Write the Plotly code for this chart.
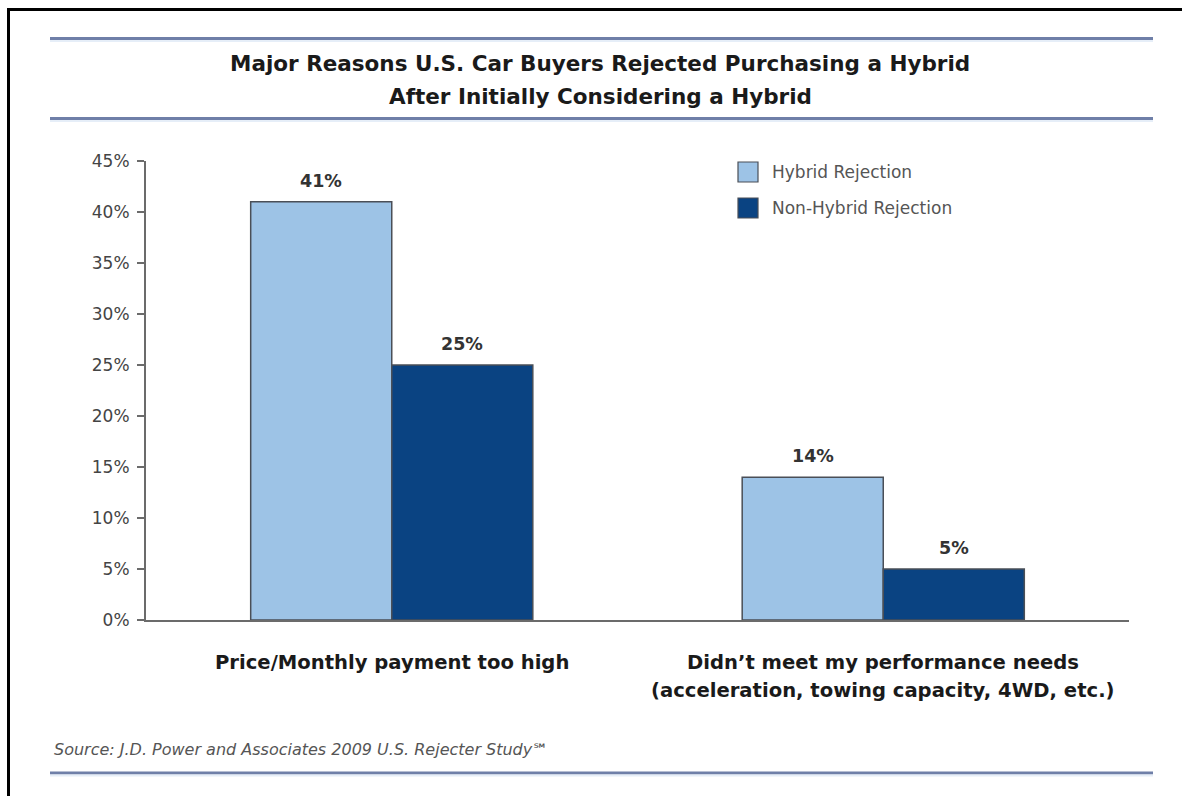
import plotly.graph_objects as go

categories = ["Price/Monthly payment too high",
              "Didn\u2019t meet my performance needs\n(acceleration, towing capacity, 4WD, etc.)"]
series_names = ["Hybrid Rejection", "Non-Hybrid Rejection"]
hybrid = [41, 14]
non_hybrid = [25, 5]
tick_vals = [0, 5, 10, 15, 20, 25, 30, 35, 40, 45]
tick_text = ["0%", "5%", "10%", "15%", "20%", "25%", "30%", "35%", "40%", "45%"]
title_lines = ["Major Reasons U.S. Car Buyers Rejected Purchasing a Hybrid",
               "After Initially Considering a Hybrid"]
source = "Source: J.D. Power and Associates 2009 U.S. Rejecter Study\u2120"

colors = ["#9dc3e6", "#0a4382"]
W, H = 1182, 796
L, R, T, B = 146, 1129, 161, 620
FONT = "DejaVu Sans, Liberation Sans, Arial, sans-serif"
BAR_W = 0.287

def px(x):
    return (x - L) / (R - L)

def py(y):
    return (B - y) / (B - T)

fig = go.Figure()
xs = list(range(len(categories)))
offsets = [-BAR_W, 0]
for name, vals, col, off in zip(series_names, [hybrid, non_hybrid], colors, offsets):
    fig.add_trace(go.Bar(
        x=xs, y=vals, name=name, width=BAR_W, offset=off,
        marker=dict(color=col, line=dict(color="#4a4f57", width=1.5)),
        showlegend=False, hoverinfo="x+y",
    ))

shapes = []
annotations = []

# value labels above bars
for vals, off in zip([hybrid, non_hybrid], offsets):
    for xi, v in zip(xs, vals):
        annotations.append(dict(text=f"<b>{v}%</b>", xref="x", yref="y",
                                x=xi + off + BAR_W / 2, y=v, yshift=9,
                                xanchor="center", yanchor="bottom", showarrow=False,
                                font=dict(family=FONT, size=17.5, color="#333333")))

# black frame lines
shapes.append(dict(type="line", xref="paper", yref="paper", x0=px(7), x1=px(1182),
                   y0=py(9.5), y1=py(9.5), line=dict(color="#000000", width=3)))
shapes.append(dict(type="line", xref="paper", yref="paper", x0=px(8.5), x1=px(8.5),
                   y0=py(8), y1=py(796), line=dict(color="#000000", width=3)))
# blue-gray rules
for yy in [38.5, 118.5, 773]:
    shapes.append(dict(type="line", xref="paper", yref="paper", x0=px(50), x1=px(1153),
                       y0=py(yy), y1=py(yy), line=dict(color="#6f7fa8", width=3)))
    shapes.append(dict(type="line", xref="paper", yref="paper", x0=px(50), x1=px(1153),
                       y0=py(yy + 2.5), y1=py(yy + 2.5), line=dict(color="#e6eef8", width=2)))

# legend
for i, (name, col) in enumerate(zip(series_names, colors)):
    yc = 172 + i * 36
    shapes.append(dict(type="rect", xref="paper", yref="paper",
                       x0=px(738), x1=px(758), y0=py(yc - 10), y1=py(yc + 10),
                       fillcolor=col, line=dict(color="#4a4f57", width=1.2)))
    annotations.append(dict(text=name, xref="paper", yref="paper", x=px(770), y=py(yc),
                            xanchor="left", yanchor="middle", showarrow=False,
                            font=dict(family=FONT, size=17, color="#555555")))

# title
for i, line in enumerate(title_lines):
    annotations.append(dict(text=f"<b>{line}</b>", xref="paper", yref="paper",
                            x=px(600), y=py(64 + i * 32), xanchor="center", yanchor="middle",
                            showarrow=False, font=dict(family=FONT, size=21.5, color="#1a1a1a")))

# category labels
for ci, cat in enumerate(categories):
    for li, line in enumerate(cat.split("\n")):
        annotations.append(dict(text=f"<b>{line}</b>", xref="x", yref="paper",
                                x=ci, y=py(662 + li * 28), xanchor="center", yanchor="middle",
                                showarrow=False, font=dict(family=FONT, size=19.6, color="#1a1a1a")))

# source
annotations.append(dict(text=f"<i>{source}</i>", xref="paper", yref="paper",
                        x=px(52), y=py(749), xanchor="left", yanchor="middle", showarrow=False,
                        font=dict(family=FONT, size=16, color="#555555")))

fig.update_layout(
    width=W, height=H, autosize=False,
    margin=dict(l=L, r=W - R, t=T, b=H - B, pad=0),
    paper_bgcolor="white", plot_bgcolor="white",
    barmode="overlay",
    showlegend=False,
    shapes=shapes, annotations=annotations,
    font=dict(family=FONT),
)
fig.update_xaxes(range=[-0.5, len(categories) - 0.5], showticklabels=False, ticks="",
                 showline=True, linecolor="#6b6b6b", linewidth=2, showgrid=False, zeroline=False,
                 fixedrange=True)
fig.update_yaxes(range=[0, 45], tickvals=tick_vals, ticktext=tick_text, ticks="outside",
                 ticklen=7, tickwidth=2, tickcolor="#6b6b6b", showline=True, linecolor="#6b6b6b",
                 linewidth=2, showgrid=False, zeroline=False, ticklabelstandoff=4,
                 tickfont=dict(family=FONT, size=17, color="#444444"), fixedrange=True)

fig.write_html("out.html", config={"displayModeBar": False},
               post_script="document.body.style.margin='0';")
